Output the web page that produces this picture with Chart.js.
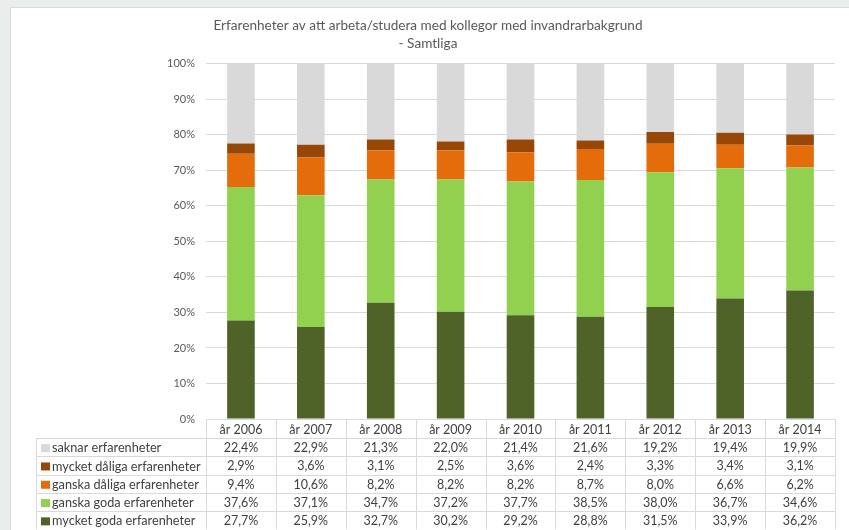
<!DOCTYPE html>
<html>
<head>
<meta charset="utf-8">
<script src="https://cdn.jsdelivr.net/npm/chart.js@4"></script>
<style>
  html, body { margin: 0; padding: 0; background: #e9eeed; }
  #panel {
    position: absolute; left: 10px; top: 7px;
    width: 839px; height: 523px;
    background: #fff;
    border-left: 1px solid #d8dddc; border-top: 1px solid #d8dddc;
    box-sizing: border-box;
  }
  canvas { display: block; }
</style>
</head>
<body>
<div id="panel"><canvas id="chart" width="838" height="522"></canvas></div>
<script>
const years = ['år 2006', 'år 2007', 'år 2008', 'år 2009', 'år 2010', 'år 2011', 'år 2012', 'år 2013', 'år 2014'];

const mycketGoda   = [27.7, 25.9, 32.7, 30.2, 29.2, 28.8, 31.5, 33.9, 36.2];
const ganskaGoda   = [37.6, 37.1, 34.7, 37.2, 37.7, 38.5, 38.0, 36.7, 34.6];
const ganskaDaliga = [9.4, 10.6, 8.2, 8.2, 8.2, 8.7, 8.0, 6.6, 6.2];
const mycketDaliga = [2.9, 3.6, 3.1, 2.5, 3.6, 2.4, 3.3, 3.4, 3.1];
const saknar       = [22.4, 22.9, 21.3, 22.0, 21.4, 21.6, 19.2, 19.4, 19.9];

const FONT = 'Lato, "Open Sans", sans-serif';
const textColor = '#404040';
const lineColor = '#d9d9d9';

function fmt(v) {
  return v.toFixed(1).replace('.', ',') + '%';
}

// data table under the plot, columns follow the x scale
const tablePlugin = {
  id: 'dataTable',
  afterDraw(chart) {
    const ctx = chart.ctx;
    const area = chart.chartArea;
    const x = chart.scales.x;
    const step = (area.right - area.left) / years.length;
    const headH = 19;
    const rowH = 18.3;
    const tableLeft = 25;
    const top = area.bottom;
    const rows = chart.data.datasets.slice().reverse();
    const bottom = top + headH + rowH * rows.length;

    ctx.save();
    ctx.strokeStyle = lineColor;
    ctx.lineWidth = 1;
    ctx.beginPath();
    for (let i = 0; i <= years.length; i++) {
      const bx = Math.round(area.left + i * step) + 0.5;
      ctx.moveTo(bx, top);
      ctx.lineTo(bx, bottom);
    }
    ctx.moveTo(tableLeft + 0.5, top + headH);
    ctx.lineTo(tableLeft + 0.5, bottom);
    for (let r = 0; r <= rows.length; r++) {
      const y = Math.round(top + headH + r * rowH) + 0.5;
      ctx.moveTo(tableLeft, y);
      ctx.lineTo(area.right, y);
    }
    ctx.stroke();

    ctx.fillStyle = textColor;
    ctx.textAlign = 'center';
    ctx.textBaseline = 'middle';
    ctx.font = '12.5px ' + FONT;
    years.forEach((y, i) => {
      ctx.fillText(y, x.getPixelForValue(i), top + headH / 2 + 1);
    });

    rows.forEach((ds, r) => {
      const cy = top + headH + r * rowH + rowH / 2 + 1;
      ctx.fillStyle = ds.backgroundColor;
      ctx.fillRect(tableLeft + 5, cy - 4, 9, 8);
      ctx.fillStyle = textColor;
      ctx.textAlign = 'left';
      ctx.font = '12.7px ' + FONT;
      ctx.fillText(ds.label, tableLeft + 16, cy);
      ctx.textAlign = 'center';
      ctx.font = '12.5px ' + FONT;
      ds.data.forEach((v, i) => {
        ctx.fillText(fmt(v), x.getPixelForValue(i), cy);
      });
    });
    ctx.restore();
  }
};

const ctx = document.getElementById('chart').getContext('2d');
new Chart(ctx, {
  type: 'bar',
  data: {
    labels: years,
    datasets: [
      { label: 'mycket goda erfarenheter', data: mycketGoda, backgroundColor: '#4f6228' },
      { label: 'ganska goda erfarenheter', data: ganskaGoda, backgroundColor: '#92d050' },
      { label: 'ganska dåliga erfarenheter', data: ganskaDaliga, backgroundColor: '#e46c0a' },
      { label: 'mycket dåliga erfarenheter', data: mycketDaliga, backgroundColor: '#974706' },
      { label: 'saknar erfarenheter', data: saknar, backgroundColor: '#d9d9d9' }
    ]
  },
  options: {
    responsive: false,
    animation: false,
    categoryPercentage: 1,
    barPercentage: 0.395,
    layout: {
      padding: { left: 10, right: 14, top: 7, bottom: 111 }
    },
    plugins: {
      legend: { display: false },
      tooltip: { enabled: false },
      title: {
        display: true,
        text: ['Erfarenheter av att arbeta/studera med kollegor med invandrarbakgrund', '- Samtliga'],
        color: '#595959',
        font: { family: FONT, size: 13.6, weight: 'normal', lineHeight: 1.28 },
        padding: { top: 2, bottom: 12 }
      }
    },
    scales: {
      x: {
        stacked: true,
        display: false
      },
      y: {
        stacked: true,
        min: 0,
        max: 100,
        afterFit(scale) { scale.width = 185; },
        ticks: {
          stepSize: 10,
          padding: 11,
          color: '#595959',
          font: { family: FONT, size: 11 },
          callback: v => v + '%'
        },
        grid: { color: lineColor, drawTicks: false },
        border: { display: false }
      }
    }
  },
  plugins: [tablePlugin]
});
</script>
</body>
</html>
